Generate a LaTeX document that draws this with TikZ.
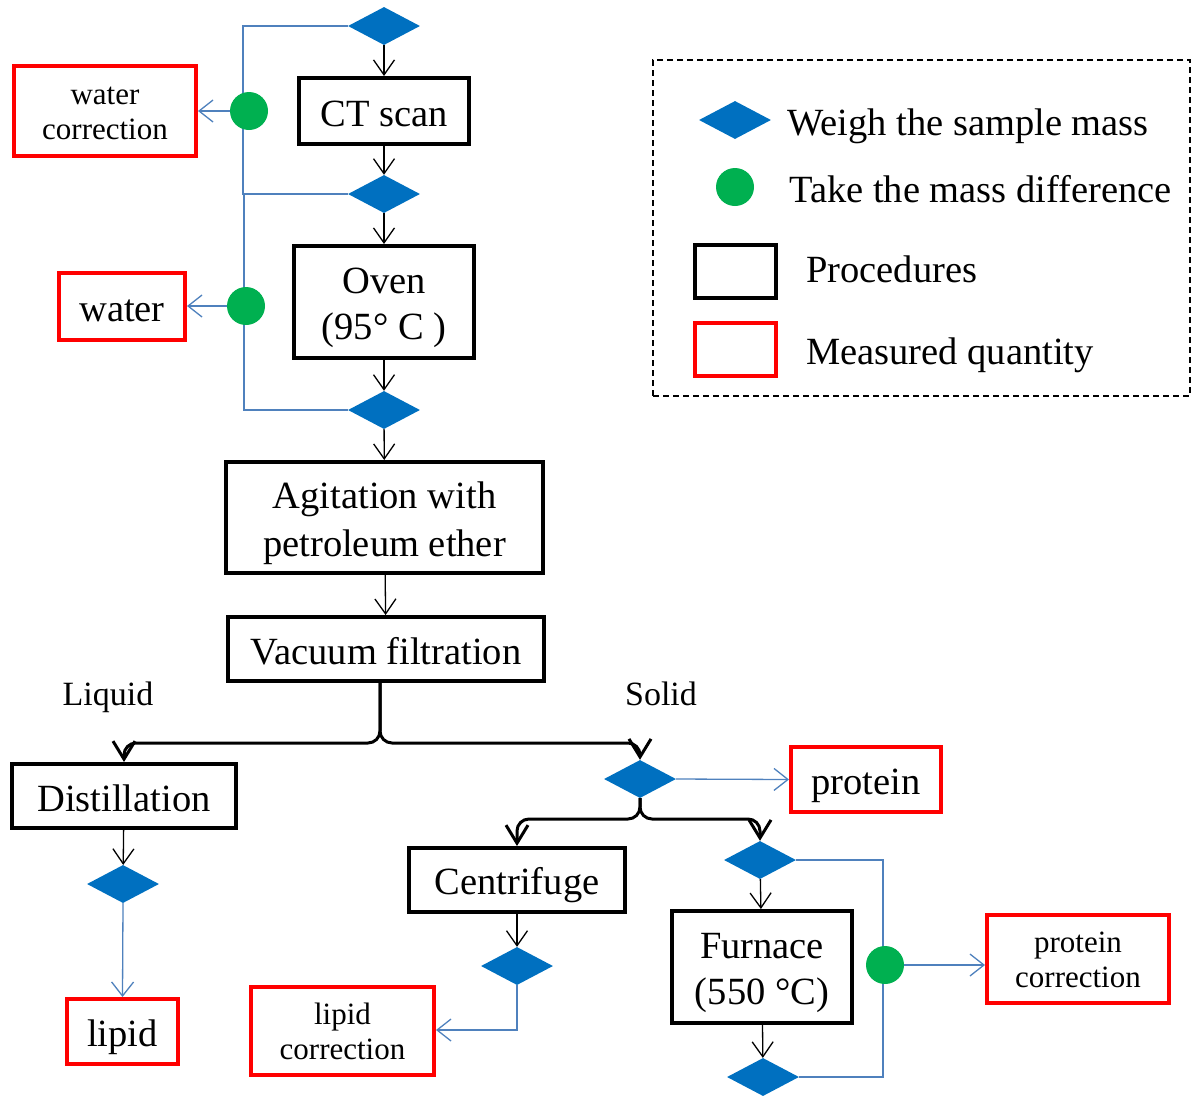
\documentclass[tikz,border=0pt]{standalone}
\usepackage{fontspec}
\setmainfont{Liberation Serif}
\usetikzlibrary{shapes.geometric,arrows.meta}
\definecolor{dblue}{HTML}{0070C0}
\definecolor{lblue}{HTML}{4F81BD}
\definecolor{gdot}{HTML}{00B050}
\definecolor{rbox}{HTML}{FF0000}
\newcommand\strB{\rule[-8pt]{0pt}{46pt}}
\newcommand\strS{\rule[-7pt]{0pt}{35pt}}
\begin{document}
\begin{tikzpicture}[x=1pt,y=-1pt,
 big/.style={font=\fontsize{38.5}{46}\selectfont},
 small/.style={font=\fontsize{31}{35}\selectfont},
 proc/.style={draw=black,line width=4pt,fill=white,inner sep=0pt,align=center,big},
 meas/.style={draw=rbox,line width=4pt,fill=white,inner sep=0pt,align=center,big},
 meassmall/.style={draw=rbox,line width=4pt,fill=white,inner sep=0pt,align=center,small},
 wdiam/.style={diamond,fill=dblue,minimum width=72pt,minimum height=38pt,inner sep=0pt},
 mdot/.style={circle,fill=gdot,minimum size=38pt,inner sep=0pt},
 flow/.style={-{Straight Barb[length=15pt,width=21pt]},line width=1.3pt,black},
 bflow/.style={-{Straight Barb[length=14pt,width=22pt]},line width=1.3pt,lblue},
 bline/.style={line width=1.3pt,lblue},
 split/.style={-{Straight Barb[length=18pt,width=22pt]},line width=3pt,black,rounded corners=12pt},
 lbl/.style={inner sep=0pt,anchor=base,font=\fontsize{34}{40}\selectfont},
 ltext/.style={inner sep=0pt,anchor=west,big}
]
\useasboundingbox (0,0) rectangle (1194,1096);

% main column
\node[wdiam] (d1) at (384,26) {};
\node[proc,minimum width=170pt,minimum height=66pt] (ct) at (384,111) {\strB CT scan\strB};
\node[wdiam] (d2) at (384,194) {};
\node[proc,minimum width=180pt,minimum height=112pt] (oven) at (384,302) {\strB Oven\\(95° C )\strB};
\node[wdiam] (d3) at (384,410) {};
\node[proc,minimum width=317pt,minimum height=111pt] (agit) at (384.5,517.5) {\strB Agitation with\\petroleum ether\strB};
\node[proc,minimum width=316pt,minimum height=64pt] (vac) at (386,649) {\strB Vacuum filtration\strB};

% left measured quantities
\node[meassmall,minimum width=182pt,minimum height=90pt] (wc) at (105,111) {\strS water\\correction\strS};
\node[meas,minimum width=126pt,minimum height=67pt] (water) at (122,306.5) {\strB water\strB};
\coordinate (k1) at (243,194);
\coordinate (k2) at (244,410);
\draw[bline] (d1.west) -| (k1) -- (d2.west);
\draw[bline] (d2.west) -| (k2) -- (d3.west);
\node[mdot] (g1) at (249,111) {};
\node[mdot] (g2) at (246,306) {};
\draw[bflow] (g1) -- (g1 -| wc.east);
\draw[bflow] (g2) -- (g2 -| water.east);

\draw[flow] (d1) -- (ct);
\draw[flow] (ct) -- (d2);
\draw[flow] (d2) -- (oven);
\draw[flow] (oven) -- (d3);
\draw[flow] (d3) -- (agit);
\draw[flow] (agit) -- (vac);

% split
\node[lbl] (liq) at (108,705) {Liquid};
\node[lbl] (sol) at (661,705) {Solid};
\node[proc,minimum width=224pt,minimum height=64pt] (dist) at (124,796) {\strB Distillation\strB};
\node[wdiam] (ds) at (640,779) {};
\coordinate (t1) at (380,683);
\coordinate (y1) at (0,743);
\draw[split] (t1) |- (dist.north |- y1) -- (dist.north);
\draw[split] (t1) |- (ds.north |- y1) -- (ds.north);

% liquid branch
\node[wdiam] (dd) at (123,884) {};
\node[meas,minimum width=111pt,minimum height=65pt] (lipid) at (122.5,1031.5) {\strB lipid\strB};
\draw[flow] (dist) -- (dd);
\draw[bflow] (dd.south) -- (lipid.north);

% solid branch
\node[meas,minimum width=150pt,minimum height=65pt] (prot) at (866,779.5) {\strB protein\strB};
\draw[bflow] (ds.east) -- (prot.west);
\node[proc,minimum width=216pt,minimum height=64pt] (cent) at (517,880) {\strB Centrifuge\strB};
\node[wdiam] (dc) at (517,966) {};
\node[meassmall,minimum width=183pt,minimum height=88pt] (lc) at (342.5,1031) {\strS lipid\\correction\strS};
\node[wdiam] (df1) at (760,860) {};
\node[proc,minimum width=180pt,minimum height=112pt] (furn) at (762,967) {\strB Furnace\\(550 °C)\strB};
\node[wdiam] (df2) at (763,1077) {};
\node[meassmall,minimum width=182pt,minimum height=88pt] (pc) at (1078,959) {\strS protein\\correction\strS};
\coordinate (y2) at (0,819);
\draw[split] (ds.south) |- (cent.north |- y2) -- (cent.north);
\draw[split] (ds.south) |- (df1.north |- y2) -- (df1.north);
\draw[flow] (cent) -- (dc);
\coordinate (k4) at (517,1030);
\draw[bflow] (dc.south) -- (k4) -- (k4 -| lc.east);
\draw[flow] (df1) -- (furn);
\draw[flow] (furn) -- (df2);
\coordinate (k3) at (883,1077);
\draw[bline] (df1.east) -| (k3) -- (df2.east);
\node[mdot] (g3) at (885,965) {};
\draw[bflow] (g3) -- (g3 -| pc.west);

% legend
\node[draw,dashed,dash pattern=on 6pt off 4pt,line width=1.3pt,minimum width=537pt,minimum height=336pt,inner sep=0pt] (legend) at (921.5,228) {};
\node[wdiam] (lgd) at (735,120) {};
\node[ltext] (lgdt) at (787,120.5) {\strB Weigh the sample mass\strB};
\node[mdot] (lgc) at (735,187) {};
\node[ltext] (lgct) at (789,187.5) {\strB Take the mass difference\strB};
\node[proc,minimum width=81pt,minimum height=53pt] (lgp) at (735.5,271.5) {};
\node[ltext] (lgpt) at (806,267.5) {\strB Procedures\strB};
\node[meas,minimum width=81pt,minimum height=53pt] (lgm) at (735.5,349.5) {};
\node[ltext] (lgmt) at (806,349.5) {\strB Measured quantity\strB};
\end{tikzpicture}
\end{document}
